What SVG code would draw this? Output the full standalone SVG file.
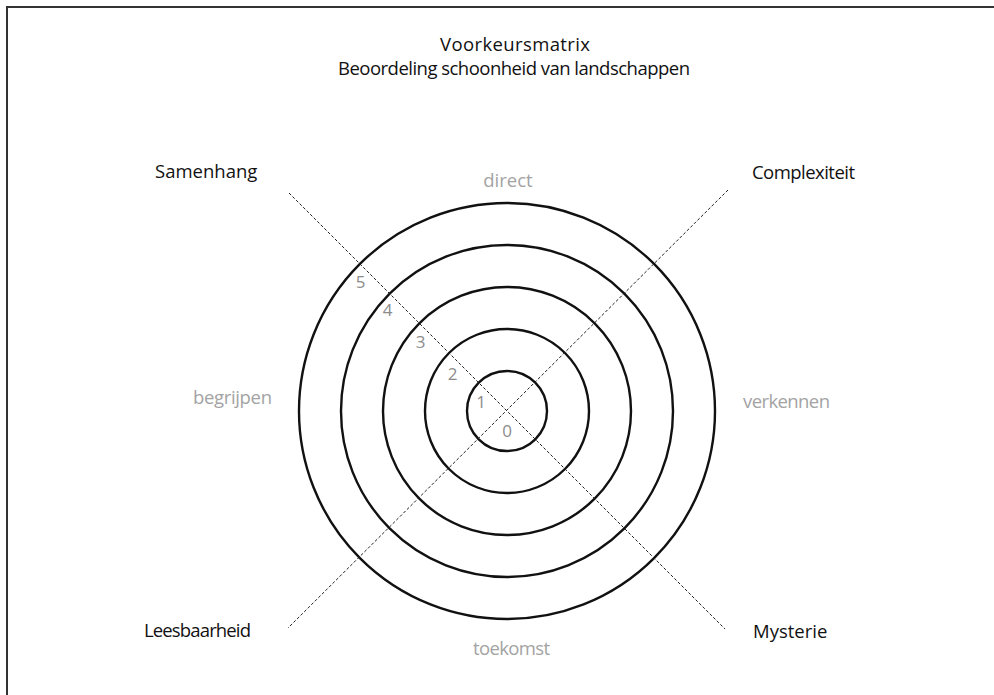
<svg xmlns="http://www.w3.org/2000/svg" width="994" height="695" viewBox="0 0 994 695">
  <style>
    text { font-family: "Open Sans", "Noto Sans", "Liberation Sans", sans-serif; font-size: 18.5px; }
    .title { fill: #111; }
    .axis { fill: #111; }
    .pole { fill: #a3a3a3; }
    .num { fill: #8c8c8c; font-size: 17px; }
    .ring { fill: none; stroke: #111; stroke-width: 2.4; }
    .diag { stroke: #222; stroke-width: 1; stroke-dasharray: 3 2; fill: none; }
  </style>
  <rect width="994" height="695" fill="#fff"/>
  <!-- frame (top and left edges) -->
  <path d="M7 695 V7 H994" fill="none" stroke="#333" stroke-width="2"/>

  <g id="heading">
    <text class="title" x="515" y="51" text-anchor="middle" font-size="20" textLength="150">Voorkeursmatrix</text>
    <text class="title" x="514" y="75" text-anchor="middle" textLength="352">Beoordeling schoonheid van landschappen</text>
  </g>

  <g id="rings">
    <circle class="ring" cx="507" cy="411" r="40"/>
    <circle class="ring" cx="507" cy="411" r="82"/>
    <circle class="ring" cx="507" cy="411" r="124"/>
    <circle class="ring" cx="507" cy="411" r="166"/>
    <circle class="ring" cx="507" cy="411" r="208"/>
  </g>

  <g id="connectors">
    <line class="diag" x1="289" y1="193" x2="725" y2="629"/>
    <line class="diag" x1="728" y1="190" x2="288" y2="628"/>
  </g>

  <g id="scale">
    <text class="num" x="360.5" y="288" text-anchor="middle">5</text>
    <text class="num" x="387.5" y="316" text-anchor="middle">4</text>
    <text class="num" x="420.5" y="348" text-anchor="middle">3</text>
    <text class="num" x="452.5" y="380" text-anchor="middle">2</text>
    <text class="num" x="481" y="408" text-anchor="middle">1</text>
    <text class="num" x="507" y="437" text-anchor="middle">0</text>
  </g>

  <g id="samenhang"><text class="axis" x="155" y="178">Samenhang</text></g>
  <g id="complexiteit"><text class="axis" x="752" y="179" textLength="103">Complexiteit</text></g>
  <g id="leesbaarheid"><text class="axis" x="144" y="637" textLength="107">Leesbaarheid</text></g>
  <g id="mysterie"><text class="axis" x="753" y="638">Mysterie</text></g>

  <g id="direct"><text class="pole" x="508" y="187" text-anchor="middle">direct</text></g>
  <g id="begrijpen"><text class="pole" x="232.5" y="404" text-anchor="middle" textLength="79">begrijpen</text></g>
  <g id="verkennen"><text class="pole" x="786.5" y="408" text-anchor="middle" textLength="87">verkennen</text></g>
  <g id="toekomst"><text class="pole" x="511.5" y="655" text-anchor="middle" textLength="77">toekomst</text></g>
</svg>
